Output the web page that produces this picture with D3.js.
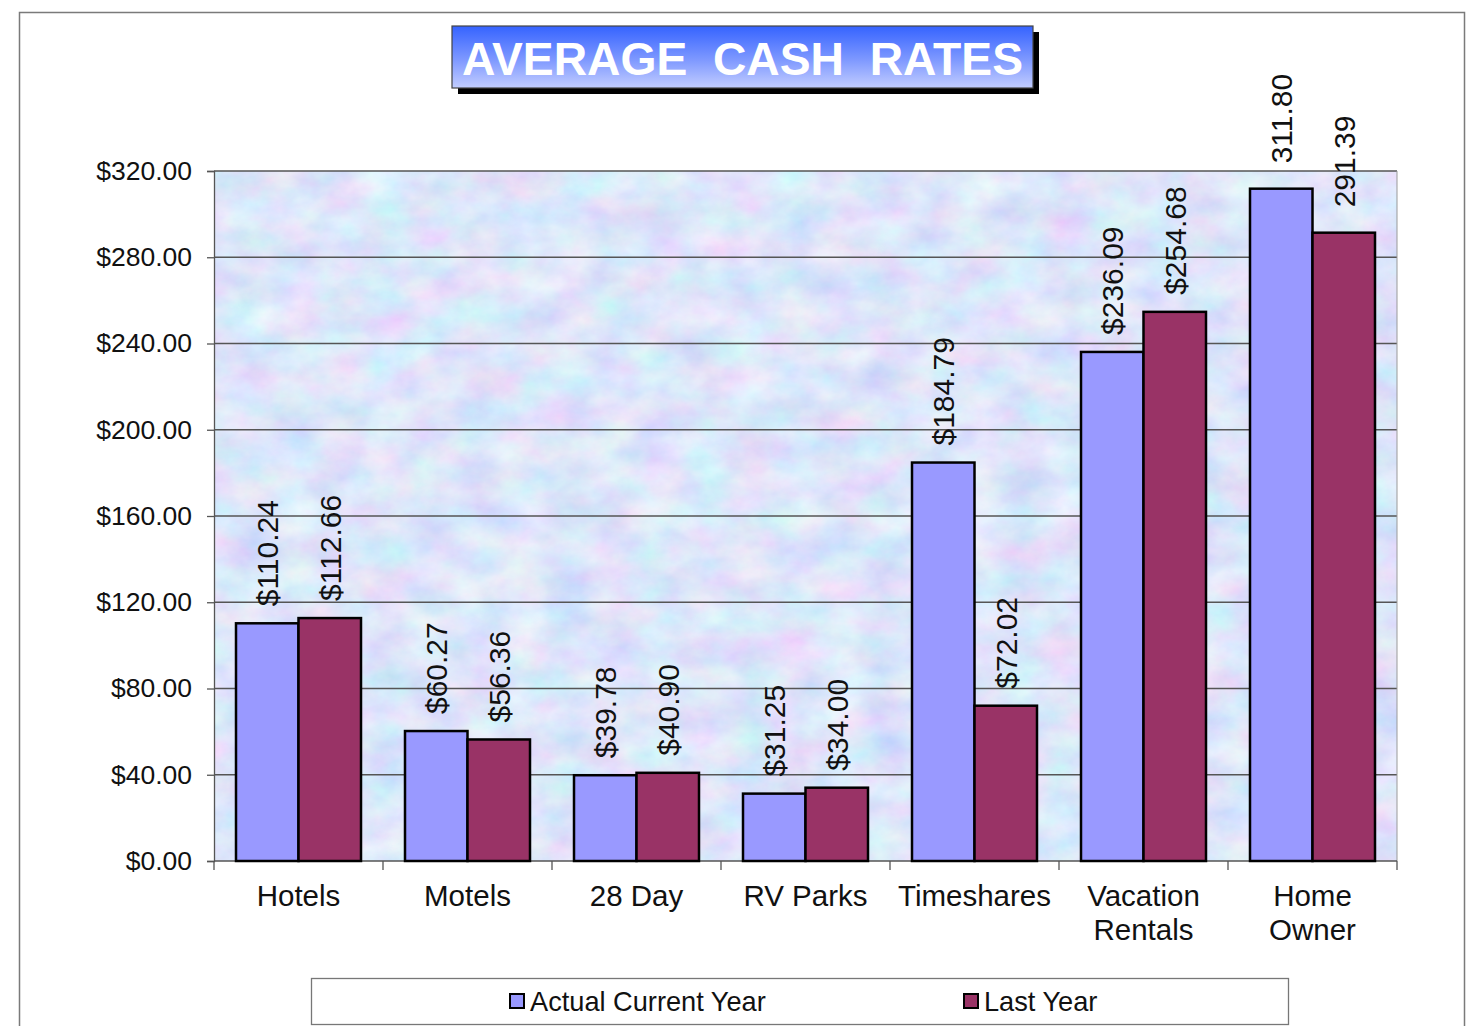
<!DOCTYPE html>
<html>
<head>
<meta charset="utf-8">
<script src="https://cdn.jsdelivr.net/npm/d3@7"></script>
<style>
  body { margin: 0; background: #fff; }
  svg { display: block; font-family: Arial, "Liberation Sans", sans-serif; }
</style>
</head>
<body>
<svg id="chart" width="1477" height="1026"></svg>
<script>
// chart data
const categories = ['Hotels', 'Motels', '28 Day', 'RV Parks', 'Timeshares', 'Vacation\nRentals', 'Home\nOwner'];
const currentYear = [110.24, 60.27, 39.78, 31.25, 184.79, 236.09, 311.80];
const lastYear = [112.66, 56.36, 40.90, 34.00, 72.02, 254.68, 291.39];
const currentLabels = ['$110.24', '$60.27', '$39.78', '$31.25', '$184.79', '$236.09', ' 311.80'];
const lastLabels = ['$112.66', '$56.36', '$40.90', '$34.00', '$72.02', '$254.68', ' 291.39'];
const seriesNames = ['Actual Current Year', 'Last Year'];
const yTicks = [0, 40, 80, 120, 160, 200, 240, 280, 320];
const title = 'AVERAGE  CASH  RATES';

const colors = ['#9999ff', '#993366'];

const svg = d3.select('#chart');
const plot = { left: 214, right: 1397, top: 171, bottom: 861 };

// outer frame
svg.append('rect')
  .attr('x', 19.5).attr('y', 12.5)
  .attr('width', 1445).attr('height', 1030)
  .attr('fill', '#fff')
  .attr('stroke', '#7a7a7a')
  .attr('stroke-width', 1.5);

// textured background
const defs = svg.append('defs');
const filter = defs.append('filter')
  .attr('id', 'paper')
  .attr('x', 0).attr('y', 0).attr('width', 1).attr('height', 1);
filter.append('feTurbulence')
  .attr('type', 'fractalNoise')
  .attr('baseFrequency', '0.022 0.03')
  .attr('numOctaves', 5)
  .attr('seed', 11)
  .attr('result', 'noise');
filter.append('feColorMatrix')
  .attr('in', 'noise')
  .attr('type', 'matrix')
  .attr('values',
    '0.45 0 0 0 0.50 ' +
    '0 0.40 0 0 0.59 ' +
    '0 0 0.15 0 0.88 ' +
    '0 0 0 0 1');

const grad = defs.append('linearGradient')
  .attr('id', 'titleGrad')
  .attr('x1', 0).attr('y1', 0).attr('x2', 0).attr('y2', 1);
grad.append('stop').attr('offset', '0%').attr('stop-color', '#3563ff');
grad.append('stop').attr('offset', '55%').attr('stop-color', '#7f99ff');
grad.append('stop').attr('offset', '100%').attr('stop-color', '#c2cdff');

svg.append('rect')
  .attr('x', plot.left).attr('y', plot.top)
  .attr('width', plot.right - plot.left)
  .attr('height', plot.bottom - plot.top)
  .attr('filter', 'url(#paper)');

// scales
const x = d3.scaleBand()
  .domain(categories)
  .range([plot.left, plot.right]);

const xSub = d3.scaleBand()
  .domain([0, 1])
  .range([0, x.bandwidth()])
  .paddingOuter(0.352);

const y = d3.scaleLinear()
  .domain([0, 320])
  .range([plot.bottom, plot.top]);

// gridlines
svg.append('g')
  .selectAll('line')
  .data(yTicks.slice(1))
  .join('line')
  .attr('x1', plot.left).attr('x2', plot.right)
  .attr('y1', d => y(d)).attr('y2', d => y(d))
  .attr('stroke', '#555')
  .attr('stroke-width', 1.3);

// plot border right
svg.append('line')
  .attr('x1', plot.right).attr('x2', plot.right)
  .attr('y1', plot.top).attr('y2', plot.bottom)
  .attr('stroke', '#999');

// y axis
const yAxis = svg.append('g')
  .attr('transform', `translate(${plot.left},0)`)
  .call(d3.axisLeft(y).tickValues(yTicks).tickFormat(d3.format('$.2f')).tickSize(7).tickPadding(15));
yAxis.select('.domain').attr('stroke', '#555').attr('stroke-width', 1.3);
yAxis.selectAll('.tick line').attr('stroke', '#555').attr('stroke-width', 1.3);
yAxis.selectAll('.tick text')
  .attr('font-size', 26.5)
  .attr('fill', '#111')
  .attr('font-family', 'Arial, "Liberation Sans", sans-serif');

// x axis line and ticks at band edges
svg.append('line')
  .attr('x1', plot.left).attr('x2', plot.right)
  .attr('y1', plot.bottom).attr('y2', plot.bottom)
  .attr('stroke', '#555').attr('stroke-width', 1.3);
svg.append('g')
  .selectAll('line')
  .data(categories.concat(['end']))
  .join('line')
  .attr('x1', (d, i) => plot.left + i * x.step())
  .attr('x2', (d, i) => plot.left + i * x.step())
  .attr('y1', plot.bottom).attr('y2', plot.bottom + 9)
  .attr('stroke', '#555').attr('stroke-width', 1.3);

// category labels
svg.append('g')
  .selectAll('text')
  .data(categories)
  .join('text')
  .attr('text-anchor', 'middle')
  .attr('font-size', 29.5)
  .attr('fill', '#111')
  .each(function(d) {
    const t = d3.select(this);
    d.split('\n').forEach((line, i) => {
      t.append('tspan')
        .attr('x', x(d) + x.bandwidth() / 2)
        .attr('y', 906 + i * 34)
        .text(line);
    });
  });

// bars
const series = [currentYear, lastYear];
const labels = [currentLabels, lastLabels];
series.forEach((vals, s) => {
  svg.append('g')
    .selectAll('rect')
    .data(vals)
    .join('rect')
    .attr('x', (d, i) => x(categories[i]) + xSub(s))
    .attr('y', d => y(d))
    .attr('width', xSub.bandwidth())
    .attr('height', d => y(0) - y(d))
    .attr('fill', colors[s])
    .attr('stroke', '#000')
    .attr('stroke-width', 2.5);

  svg.append('g')
    .selectAll('text')
    .data(vals)
    .join('text')
    .attr('transform', (d, i) =>
      `translate(${x(categories[i]) + xSub(s) + xSub.bandwidth() / 2},${y(d) - 17}) rotate(-90)`)
    .attr('dy', '0.36em')
    .attr('font-size', 30)
    .attr('fill', '#111')
    .style('white-space', 'pre')
    .text((d, i) => labels[s][i]);
});

// title box
svg.append('rect')
  .attr('x', 458).attr('y', 32)
  .attr('width', 581).attr('height', 62)
  .attr('fill', '#000');
svg.append('rect')
  .attr('x', 452).attr('y', 26)
  .attr('width', 581).attr('height', 62)
  .attr('fill', 'url(#titleGrad)')
  .attr('stroke', '#444')
  .attr('stroke-width', 1.2);
svg.append('text')
  .attr('x', 462).attr('y', 75)
  .attr('font-size', 46)
  .attr('font-weight', 'bold')
  .attr('fill', '#fff')
  .attr('textLength', 561)
  .attr('lengthAdjust', 'spacingAndGlyphs')
  .style('white-space', 'pre')
  .text(title);

// legend
svg.append('rect')
  .attr('x', 311.5).attr('y', 978.5)
  .attr('width', 977).attr('height', 46)
  .attr('fill', '#fff')
  .attr('stroke', '#777')
  .attr('stroke-width', 1.3);
const legendX = [510, 964];
seriesNames.forEach((name, s) => {
  svg.append('rect')
    .attr('x', legendX[s]).attr('y', 994)
    .attr('width', 14).attr('height', 14)
    .attr('fill', colors[s])
    .attr('stroke', '#000')
    .attr('stroke-width', 2);
  svg.append('text')
    .attr('x', legendX[s] + 20).attr('y', 1011)
    .attr('font-size', 27.2)
    .attr('fill', '#111')
    .text(name);
});
</script>
</body>
</html>
